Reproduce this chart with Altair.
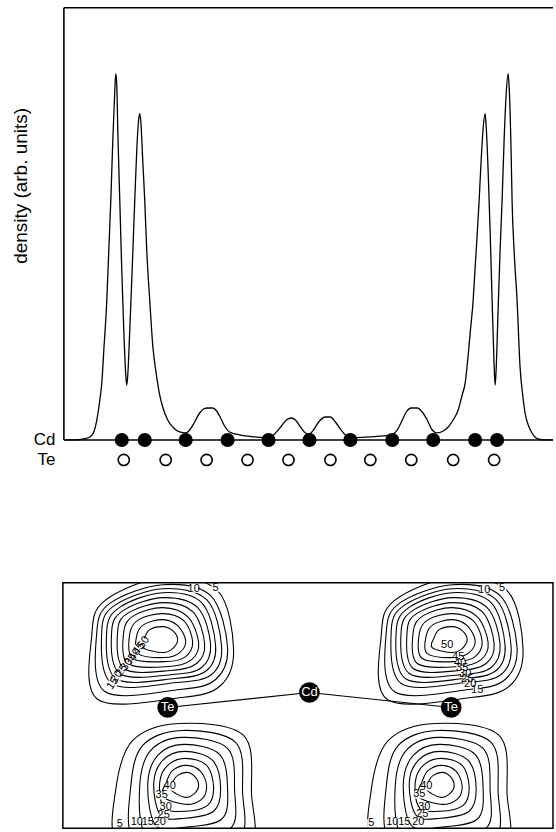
import altair as alt
import pandas as pd

FONT = "Liberation Sans"

# ---------------- top panel: density profile along the chain ----------------
# position along the chain (arb. length units) and density (arb. units)
PROFILE_POS = [0, 11, 20, 26, 30, 33, 36, 38, 40, 43,
               45, 47, 49, 51, 52, 53, 54, 56, 58, 60,
               62, 63, 64, 66, 68, 71, 73, 75, 76, 77,
               79, 81, 83, 86, 89, 93, 96, 99, 104, 109,
               116, 122, 126, 131, 136, 140, 144, 149, 153, 157,
               161, 166, 176, 191, 204, 211, 218, 223, 228, 232,
               237, 242, 246, 250, 256, 262, 267, 272, 277, 282,
               287, 306, 328, 334, 339, 343, 348, 354, 359, 364,
               369, 374, 380, 385, 390, 395, 399, 402, 405, 407,
               410, 412, 414, 416, 418, 420, 422, 423, 425, 427,
               429, 431, 432, 433, 435, 437, 439, 441, 443, 445,
               446, 448, 449, 451, 454, 457, 460, 462, 466, 469,
               475, 481, 490]
PROFILE_DENS = [0, 0, 1, 3, 8, 20, 40, 57, 90, 140,
                190, 240, 300, 350, 367, 355, 310, 240, 170, 110,
                65, 55, 65, 110, 160, 240, 290, 322, 327, 320,
                280, 240, 190, 140, 95, 63, 45, 33, 20, 13,
                8, 7, 10, 18, 27, 31, 32, 32, 29, 22,
                14, 8, 5, 3, 2, 6, 14, 20, 22, 20,
                13, 7, 6, 10, 19, 23, 23, 18, 11, 5,
                2, 3, 5, 10, 20, 28, 32, 32, 28, 20,
                10, 7, 9, 13, 20, 30, 45, 57, 85, 107,
                140, 173, 205, 240, 280, 312, 327, 315, 270, 210,
                140, 75, 55, 70, 130, 190, 240, 300, 345, 367,
                355, 290, 240, 190, 140, 73, 42, 27, 13, 7,
                1, 0, 0]
CD_POS = [58, 81, 122, 164, 205, 246, 287, 329, 370, 412, 434]
TE_POS = [60, 102, 143, 184, 225, 267, 307, 348, 390, 431]
CD_ROW = 0
TE_ROW = -20
TOP_MAX = 433
X_END = 490

# ---------------- bottom panel: contour map ----------------
# upper lobes (levels 50..5): ring points R, BR, B, BL, L, TL, T, TR
TOP_LEVELS = [50, 45, 40, 35, 30, 25, 20, 15, 10, 5]
TOP_R_X = [114, 122, 129, 135, 141, 147, 152, 158, 164, 170]
TOP_R_Y = [57, 58, 59, 60, 61, 62, 63, 64, 65, 67]
TOP_BR_X = [109, 116, 122, 128, 133, 138, 143, 148, 152, 157]
TOP_BR_Y = [66, 70, 74, 77, 81, 85, 88, 92, 97, 103]
TOP_B_X = [99, 101, 103, 105, 107, 109, 111, 113, 116, 118]
TOP_B_Y = [70, 75, 79, 84, 88, 92, 96, 100, 107, 115]
TOP_BL_X = [79, 74, 69, 64, 60, 56, 52, 48, 41, 34]
TOP_BL_Y = [65, 71, 76, 81, 86, 91, 96, 101, 109, 117]
TOP_L_X = [81, 73, 66, 60, 54, 48, 43, 38, 33, 28]
TOP_L_Y = [55, 53, 51, 49, 47, 47, 47, 47, 49, 52]
TOP_TL_X = [86, 80, 75, 70, 65, 61, 57, 52, 47, 41]
TOP_TL_Y = [47, 42, 37, 33, 30, 27, 24, 22, 20, 18]
TOP_T_X = [99, 99, 99, 99, 99, 99, 99, 99, 99, 99]
TOP_T_Y = [44, 37, 31, 25, 20, 15, 10, 6, 2, -5]
TOP_TR_X = [109, 114, 120, 124, 129, 134, 138, 143, 147, 154]
TOP_TR_Y = [48, 43, 38, 34, 29, 25, 20, 17, 13, 8]
TOP_LOBE_SHIFT = [0, 290]

# lower lobes (levels 40..5)
BOT_LEVELS = [40, 35, 30, 25, 20, 15, 10, 5]
BOT_R_X = [135, 143, 150, 157, 164, 171, 179, 188]
BOT_R_Y = [203, 204, 205, 206, 207, 208, 210, 212]
BOT_BR_X = [131, 138, 144, 150, 158, 167, 176, 186]
BOT_BR_Y = [211, 217, 223, 229, 237, 246, 255, 264]
BOT_B_X = [121, 121, 121, 121, 121, 121, 121, 121]
BOT_B_Y = [215, 222, 229, 236, 245, 254, 263, 272]
BOT_BL_X = [107, 99, 100, 97, 92, 82, 70, 55]
BOT_BL_Y = [207, 214, 225, 233, 243, 252, 257, 262]
BOT_L_X = [110, 103, 96, 90, 84, 76, 67, 52]
BOT_L_Y = [198, 199, 200, 201, 202, 203, 204, 207]
BOT_TL_X = [114, 109, 104, 99, 94, 87, 79, 69]
BOT_TL_Y = [193, 188, 183, 178, 173, 168, 163, 158]
BOT_T_X = [123, 123, 122, 121, 120, 119, 118, 116]
BOT_T_Y = [190, 183, 176, 169, 162, 155, 148, 141]
BOT_TR_X = [131, 137, 143, 149, 156, 164, 172, 180]
BOT_TR_Y = [194, 189, 183, 178, 172, 166, 160, 153]
BOT_LOBE_SHIFT = [0, 256]

# contour labels
LBL_TL_TEXT = ["10", "5", "50", "45", "40", "35", "30", "25", "20", "15"]
LBL_TL_X = [130, 152, 80, 75, 71, 67, 63, 58, 53, 49]
LBL_TL_Y = [6, 5, 60, 66, 72, 77, 82, 88, 94, 101]
LBL_TL_ANGLE = [0, 0, 305, 305, 305, 305, 305, 305, 305, 305]
LBL_TR_TEXT = ["10", "5", "50", "45", "40", "35", "30", "25", "20", "15"]
LBL_TR_X = [421, 439, 384, 395, 397, 399, 402, 404, 407, 414]
LBL_TR_Y = [7, 5, 62, 74, 80, 85, 91, 96, 101, 108]
LBL_BL_TEXT = ["40", "35", "30", "25", "20", "15", "10", "5"]
LBL_BL_X = [106, 98, 102, 100, 96, 84, 73, 56]
LBL_BL_Y = [204, 213, 225, 233, 240, 240, 240, 242]
LBL_BR_TEXT = ["40", "35", "30", "25", "20", "15", "10", "5"]
LBL_BR_X = [363, 356, 361, 359, 355, 341, 329, 308]
LBL_BR_Y = [204, 212, 225, 232, 240, 240, 240, 241]

ATOM_NAME = ["Te", "Cd", "Te"]
ATOM_X = [104, 246, 388]
ATOM_Y = [125, 110, 125]
MAP_W = 490
MAP_H = 246

# ---------------- build tables ----------------
profile_df = pd.DataFrame({"pos": PROFILE_POS, "dens": PROFILE_DENS})
cd_df = pd.DataFrame({"pos": CD_POS, "row": [CD_ROW] * len(CD_POS)})
te_df = pd.DataFrame({"pos": TE_POS, "row": [TE_ROW] * len(TE_POS)})
frame_top_df = pd.DataFrame({"x": [0, 0, 0], "x2": [0, X_END, X_END],
                             "y": [0, TOP_MAX, 0], "y2": [TOP_MAX, TOP_MAX, 0]})


def ring_rows(tag, levels, pts, shift):
    rows = []
    for i, lev in enumerate(levels):
        for k, (xs, ys) in enumerate(pts):
            rows.append({"ring": f"{tag}{lev}", "order": k,
                         "x": xs[i] + shift, "y": ys[i]})
    return rows


top_pts = [(TOP_R_X, TOP_R_Y), (TOP_BR_X, TOP_BR_Y), (TOP_B_X, TOP_B_Y),
           (TOP_BL_X, TOP_BL_Y), (TOP_L_X, TOP_L_Y), (TOP_TL_X, TOP_TL_Y),
           (TOP_T_X, TOP_T_Y), (TOP_TR_X, TOP_TR_Y)]
bot_pts = [(BOT_R_X, BOT_R_Y), (BOT_BR_X, BOT_BR_Y), (BOT_B_X, BOT_B_Y),
           (BOT_BL_X, BOT_BL_Y), (BOT_L_X, BOT_L_Y), (BOT_TL_X, BOT_TL_Y),
           (BOT_T_X, BOT_T_Y), (BOT_TR_X, BOT_TR_Y)]
rows = []
for j, s in enumerate(TOP_LOBE_SHIFT):
    rows += ring_rows(f"t{j}-", TOP_LEVELS, top_pts, s)
for j, s in enumerate(BOT_LOBE_SHIFT):
    rows += ring_rows(f"b{j}-", BOT_LEVELS, bot_pts, s)
rings_df = pd.DataFrame(rows)

labels_df = pd.DataFrame({
    "text": LBL_TL_TEXT + LBL_TR_TEXT + LBL_BL_TEXT + LBL_BR_TEXT,
    "x": LBL_TL_X + LBL_TR_X + LBL_BL_X + LBL_BR_X,
    "y": LBL_TL_Y + LBL_TR_Y + LBL_BL_Y + LBL_BR_Y,
    "angle": LBL_TL_ANGLE + [0] * (len(LBL_TR_TEXT) + len(LBL_BL_TEXT) + len(LBL_BR_TEXT)),
})
atoms_df = pd.DataFrame({"name": ATOM_NAME, "x": ATOM_X, "y": ATOM_Y,
                         "order": list(range(len(ATOM_NAME)))})
frame_bot_df = pd.DataFrame({"x": [-1], "x2": [MAP_W], "y": [0], "y2": [MAP_H]})

# ---------------- scales / axes ----------------
XS = alt.Scale(domain=[0, 492], nice=False, zero=False)
YT = alt.Scale(domain=[-35, TOP_MAX], nice=False, zero=False)
YB = alt.Scale(domain=[0, MAP_H], nice=False, zero=False, reverse=True)

y_axis = alt.Axis(values=[CD_ROW, TE_ROW],
                  labelExpr="datum.value == 0 ? 'Cd' : 'Te'",
                  ticks=False, domain=False, grid=False,
                  labelPadding=9, labelFontSize=17, labelFont=FONT,
                  labelColor="black", labelOverlap=False, labelFlush=False,
                  labelBaseline="middle",
                  title="density (arb. units)", titleFont=FONT,
                  titleFontSize=19, titleFontWeight="normal",
                  titleColor="black", titleAngle=270, titleX=-43, titleY=178,
                  titleAlign="center", titleBaseline="middle")

top_rules = alt.Chart(frame_top_df).mark_rule(color="black", strokeWidth=1.6).encode(
    x=alt.X("x:Q", scale=XS, axis=None), x2="x2:Q",
    y=alt.Y("y:Q", scale=YT, axis=y_axis), y2="y2:Q")
top_line = alt.Chart(profile_df).mark_line(
    interpolate="monotone", color="black", strokeWidth=1.3).encode(
    x=alt.X("pos:Q", scale=XS, axis=None),
    y=alt.Y("dens:Q", scale=YT, axis=y_axis))
top_cd = alt.Chart(cd_df).mark_circle(size=200, color="black", opacity=1).encode(
    x=alt.X("pos:Q", scale=XS, axis=None),
    y=alt.Y("row:Q", scale=YT, axis=y_axis))
top_te = alt.Chart(te_df).mark_point(
    shape="circle", size=125, color="black", strokeWidth=1.6,
    filled=False, opacity=1).encode(
    x=alt.X("pos:Q", scale=XS, axis=None),
    y=alt.Y("row:Q", scale=YT, axis=y_axis))
top = alt.layer(top_rules, top_line, top_cd, top_te).properties(width=492, height=468)

ring_layer = alt.Chart(rings_df).mark_line(
    interpolate="cardinal-closed", color="black", strokeWidth=1.1, clip=True).encode(
    x=alt.X("x:Q", scale=XS, axis=None),
    y=alt.Y("y:Q", scale=YB, axis=None),
    detail="ring:N", order="order:Q")
gaps = alt.Chart(labels_df).mark_square(
    size=70, color="white", opacity=1, clip=True).encode(
    x=alt.X("x:Q", scale=XS, axis=None),
    y=alt.Y("y:Q", scale=YB, axis=None))
lbl = alt.Chart(labels_df).mark_text(
    font=FONT, fontSize=11, fill="black", opacity=1,
    baseline="middle", align="center").encode(
    x=alt.X("x:Q", scale=XS, axis=None),
    y=alt.Y("y:Q", scale=YB, axis=None),
    text="text:N", angle=alt.Angle("angle:Q", scale=None))
bonds = alt.Chart(atoms_df).mark_line(color="black", strokeWidth=1.2).encode(
    x=alt.X("x:Q", scale=XS, axis=None),
    y=alt.Y("y:Q", scale=YB, axis=None), order="order:Q")
atoms = alt.Chart(atoms_df).mark_circle(size=430, color="black", opacity=1).encode(
    x=alt.X("x:Q", scale=XS, axis=None),
    y=alt.Y("y:Q", scale=YB, axis=None))
atom_txt = alt.Chart(atoms_df).mark_text(
    font=FONT, fontSize=13, color="white", baseline="middle", align="center").encode(
    x=alt.X("x:Q", scale=XS, axis=None),
    y=alt.Y("y:Q", scale=YB, axis=None), text="name:N")
frame_bot = alt.Chart(frame_bot_df).mark_rect(
    fillOpacity=0, stroke="black", strokeWidth=1.5).encode(
    x=alt.X("x:Q", scale=XS, axis=None), x2="x2:Q",
    y=alt.Y("y:Q", scale=YB, axis=None), y2="y2:Q")
bottom = alt.layer(ring_layer, gaps, lbl, bonds, atoms, atom_txt, frame_bot).properties(
    width=492, height=MAP_H)

chart = alt.vconcat(top, bottom, spacing=108, bounds="flush").properties(
    padding={"left": 12, "top": 6, "right": 0, "bottom": 0},
    background="white",
).configure_view(stroke=None)

chart.save("out.html", embed_options={"renderer": "svg", "actions": False})
